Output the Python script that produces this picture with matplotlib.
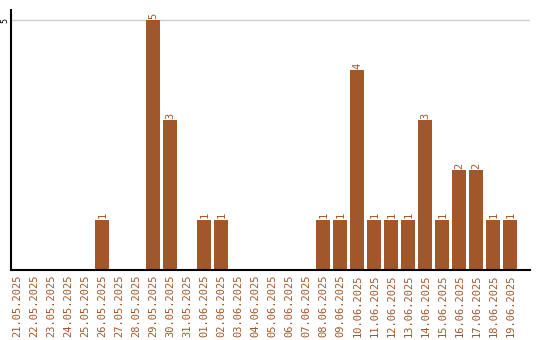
import matplotlib.pyplot as plt
import numpy as np

dates = ["21.05.2025", "22.05.2025", "23.05.2025", "24.05.2025", "25.05.2025",
         "26.05.2025", "27.05.2025", "28.05.2025", "29.05.2025", "30.05.2025",
         "31.05.2025", "01.06.2025", "02.06.2025", "03.06.2025", "04.06.2025",
         "05.06.2025", "06.06.2025", "07.06.2025", "08.06.2025", "09.06.2025",
         "10.06.2025", "11.06.2025", "12.06.2025", "13.06.2025", "14.06.2025",
         "15.06.2025", "16.06.2025", "17.06.2025", "18.06.2025", "19.06.2025"]
counts = [0, 0, 0, 0, 0, 1, 0, 0, 5, 3,
          0, 1, 1, 0, 0, 0, 0, 0, 1, 1,
          4, 1, 1, 1, 3, 1, 2, 2, 1, 1]

color = '#a0572a'

fig = plt.figure(figsize=(5.4, 3.4), dpi=100)
ax = fig.add_axes([11 / 540, 70 / 340, 519 / 540, 260 / 340])

x = np.arange(len(dates))
bars = ax.bar(x, counts, width=0.82, color=color, zorder=2)

# value labels above non-empty bars
for xi, c in zip(x, counts):
    if c > 0:
        ax.text(xi, c + 0.03, str(c), rotation=90, ha='center', va='bottom',
                fontsize=7.5, family='DejaVu Sans Mono', color=color)

ax.set_xlim(-0.38, 30.15)
ax.set_ylim(0, 5.2)
ax.set_yticks([5])
ax.set_yticklabels(['5'], rotation=90, va='center', fontsize=6,
                   family='DejaVu Sans Mono')
ax.set_xticks(x)
ax.set_xticklabels(dates, rotation=90, fontsize=7.5, family='DejaVu Sans Mono',
                   color=color)
ax.tick_params(axis='x', length=0, pad=3)
ax.tick_params(axis='y', length=0, pad=1)
ax.grid(axis='y', color='#cccccc', linewidth=1, zorder=0)

for s in ['top', 'right']:
    ax.spines[s].set_visible(False)
ax.spines['left'].set_linewidth(1.5)
ax.spines['bottom'].set_linewidth(1.5)

fig.savefig('out.png', dpi=100)
